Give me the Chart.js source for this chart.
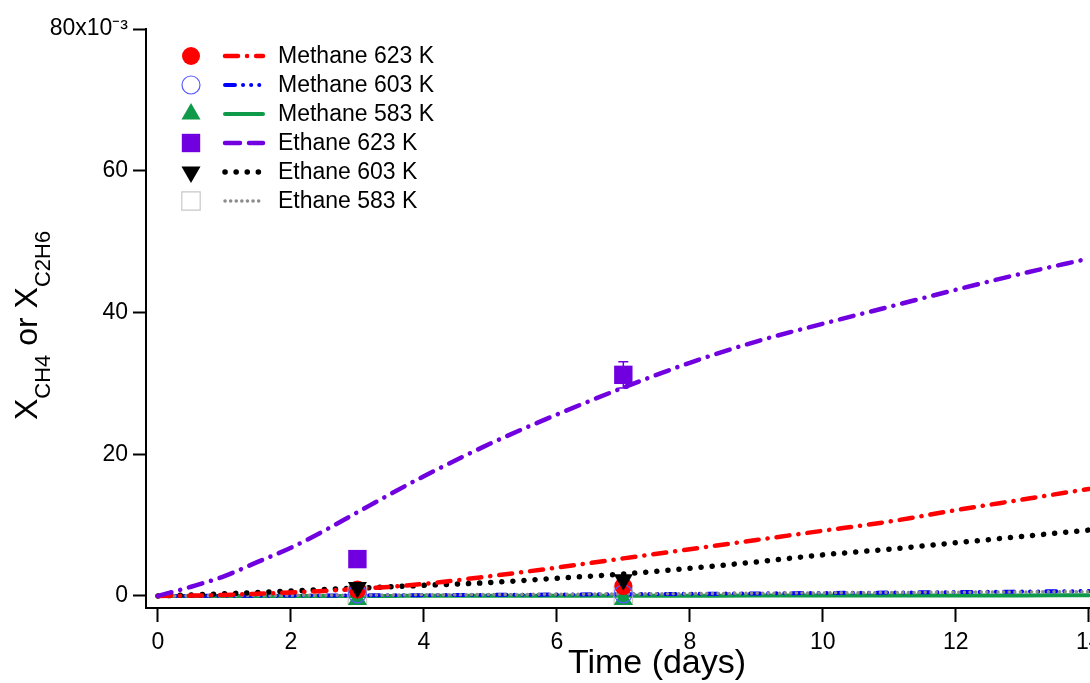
<!DOCTYPE html>
<html>
<head>
<meta charset="utf-8">
<script src="https://cdn.jsdelivr.net/npm/chart.js@4.4.1/dist/chart.umd.min.js"></script>
<style>
  html, body { margin: 0; padding: 0; background: #fff; overflow: hidden; }
</style>
</head>
<body>
<canvas id="myChart" width="1120" height="683"></canvas>
<script>
// model curves, sampled on a common time grid (days)
const fitDays = [0, 0.5, 1, 1.5, 2, 2.5, 3, 3.5, 4, 5, 6, 7, 8, 9, 10, 11, 12, 13, 14];
const methane623Fit = [0, 0.05, 0.15, 0.3, 0.5, 0.7, 1.0, 1.3, 1.7, 2.8, 4.0, 5.3, 6.6, 7.9, 9.2, 10.5, 12.1, 13.6, 15.1];
const methane603Fit = [0, 0.01, 0.02, 0.03, 0.05, 0.06, 0.08, 0.09, 0.11, 0.15, 0.2, 0.25, 0.3, 0.36, 0.42, 0.48, 0.55, 0.62, 0.7];
const methane583Fit = [0, 0, 0, 0, 0.01, 0.01, 0.01, 0.01, 0.02, 0.02, 0.03, 0.03, 0.04, 0.05, 0.05, 0.06, 0.07, 0.08, 0.09];
const ethane623Fit = [0, 1.3, 2.8, 4.8, 6.8, 9.2, 11.8, 14.4, 16.9, 21.5, 25.6, 29.4, 32.9, 35.9, 38.4, 40.8, 43.2, 45.5, 47.6];
const ethane603Fit = [0, 0.15, 0.3, 0.5, 0.7, 0.9, 1.1, 1.3, 1.5, 1.9, 2.5, 3.1, 3.9, 4.8, 5.8, 6.6, 7.5, 8.4, 9.3];
const ethane583Fit = [0, 0.02, 0.04, 0.06, 0.08, 0.1, 0.12, 0.14, 0.16, 0.2, 0.24, 0.28, 0.33, 0.38, 0.43, 0.48, 0.53, 0.57, 0.6];

// measurements
const sampleDays = [3, 7];
const methane623Obs = [0.9, 1.4];
const methane603Obs = [0.3, 0.3];
const methane583Obs = [-0.5, -0.5];
const ethane623Obs = [5.2, 31.2];
const ethane623Err = [0, 1.85];
const ethane603Obs = [1.2, 2.3];
const ethane583Obs = [0.1, 0.1];

const seriesNames = ['Methane 623 K', 'Methane 603 K', 'Methane 583 K', 'Ethane 623 K', 'Ethane 603 K', 'Ethane 583 K'];

const xTicks = [0, 2, 4, 6, 8, 10, 12, 14];
const xTickLabels = ['0', '2', '4', '6', '8', '10', '12', '14'];
const yTicks = [0, 20, 40, 60, 80];
const yTickLabels = ['0', '20', '40', '60', '80x10\u207B\u00B3'];
const xTitle = 'Time (days)';

const FONT = "'Liberation Sans', Arial, sans-serif";

const pts = (xs, ys) => xs.map((x, i) => ({ x: x, y: ys[i] }));

const markerSets = [
  { label: seriesNames[0], data: pts(sampleDays, methane623Obs), pointStyle: 'circle', pointRadius: 9,
    backgroundColor: '#ff0000', borderColor: '#ff0000', borderWidth: 0, order: 3 },
  { label: seriesNames[1], data: pts(sampleDays, methane603Obs), pointStyle: 'circle', pointRadius: 9,
    backgroundColor: 'rgba(0,0,0,0)', borderColor: '#5a5aff', borderWidth: 1.2, order: 2 },
  { label: seriesNames[2], data: pts(sampleDays, methane583Obs), pointStyle: 'triangle', pointRadius: 11,
    backgroundColor: '#0f9a4a', borderColor: '#0f9a4a', borderWidth: 0, order: 4 },
  { label: seriesNames[3], data: pts(sampleDays, ethane623Obs), pointStyle: 'rect', pointRadius: 13,
    backgroundColor: '#7000e0', borderColor: '#7000e0', borderWidth: 0, order: 0 },
  { label: seriesNames[4], data: pts(sampleDays, ethane603Obs), pointStyle: 'triangle', pointRadius: 11, rotation: 180,
    backgroundColor: '#000000', borderColor: '#000000', borderWidth: 0, order: 1 },
  { label: seriesNames[5], data: pts(sampleDays, ethane583Obs), pointStyle: 'rect', pointRadius: 13,
    backgroundColor: 'rgba(0,0,0,0)', borderColor: '#c8c8c8', borderWidth: 1.2, order: 5 }
].map(ds => Object.assign(ds, { showLine: false, pointRotation: ds.rotation || 0, pointHoverRadius: ds.pointRadius }));

const curveSets = [
  { label: seriesNames[0], data: pts(fitDays, methane623Fit), borderColor: '#ff0000', borderWidth: 4.5,
    borderDash: [13, 9, 0.1, 9], order: 8 },
  { label: seriesNames[1], data: pts(fitDays, methane603Fit), borderColor: '#0000ff', borderWidth: 4,
    borderDash: [10, 8, 0.1, 8, 0.1, 8, 0.1, 8], order: 11 },
  { label: seriesNames[2], data: pts(fitDays, methane583Fit), borderColor: '#0f9a4a', borderWidth: 4,
    borderDash: [], order: 12 },
  { label: seriesNames[3], data: pts(fitDays, ethane623Fit), borderColor: '#7000e0', borderWidth: 4.5,
    borderDash: [14, 9, 0.1, 9], legendDash: [15, 9], order: 7 },
  { label: seriesNames[4], data: pts(fitDays, ethane603Fit), borderColor: '#000000', borderWidth: 5.5,
    borderDash: [0.1, 11], order: 9 },
  { label: seriesNames[5], data: pts(fitDays, ethane583Fit), borderColor: '#8c8c8c', borderWidth: 3.5,
    borderDash: [0.1, 5.5], order: 10 }
].map(ds => Object.assign(ds, { showLine: true, pointRadius: 0, pointHoverRadius: 0, borderCapStyle: 'round',
  cubicInterpolationMode: 'monotone', fill: false }));

// error bars on the ethane 623 K measurements
const errorBars = {
  id: 'errorBars',
  beforeDatasetsDraw(chart) {
    const { ctx, scales: { x, y } } = chart;
    ctx.save();
    ctx.strokeStyle = '#7000e0';
    ctx.lineWidth = 1.5;
    sampleDays.forEach((d, i) => {
      const e = ethane623Err[i];
      if (!e) return;
      const px = x.getPixelForValue(d);
      const top = y.getPixelForValue(ethane623Obs[i] + e);
      const bot = y.getPixelForValue(ethane623Obs[i] - e);
      ctx.beginPath();
      ctx.moveTo(px, top); ctx.lineTo(px, bot);
      ctx.moveTo(px - 5, top); ctx.lineTo(px + 5, top);
      ctx.moveTo(px - 5, bot); ctx.lineTo(px + 5, bot);
      ctx.stroke();
    });
    ctx.restore();
  }
};

// legend: marker + line sample + name for each series
const sampleLegend = {
  id: 'sampleLegend',
  afterDraw(chart) {
    const ctx = chart.ctx;
    ctx.save();
    seriesNames.forEach((name, i) => {
      const y = 56 + i * 29;
      const m = markerSets[i];
      const c = curveSets[i];
      ctx.setLineDash([]);
      ctx.fillStyle = m.backgroundColor;
      ctx.strokeStyle = m.borderColor;
      ctx.lineWidth = m.borderWidth;
      Chart.helpers.drawPoint(ctx, { pointStyle: m.pointStyle, radius: m.pointRadius,
        rotation: m.pointRotation, borderWidth: m.borderWidth }, 191, y);

      ctx.beginPath();
      ctx.setLineDash(c.legendDash || c.borderDash);
      ctx.lineCap = 'round';
      ctx.strokeStyle = c.borderColor;
      ctx.lineWidth = c.borderWidth;
      ctx.moveTo(225, y);
      ctx.lineTo(263, y);
      ctx.stroke();

      ctx.setLineDash([]);
      ctx.fillStyle = '#000';
      ctx.font = '23px ' + FONT;
      ctx.textBaseline = 'middle';
      ctx.textAlign = 'left';
      ctx.fillText(name, 278, y + 1);
    });
    ctx.restore();
  }
};

// axis titles: x title off-centre, y title rotated with subscripts
const axisTitles = {
  id: 'axisTitles',
  afterDraw(chart) {
    const ctx = chart.ctx;
    ctx.save();
    ctx.fillStyle = '#000';
    ctx.font = '34px ' + FONT;
    ctx.textAlign = 'center';
    ctx.textBaseline = 'middle';
    ctx.fillText(xTitle, 657, 664);

    const parts = [
      { t: 'X', size: 32, dy: 0 },
      { t: 'CH4', size: 22, dy: 13 },
      { t: ' or X', size: 32, dy: 0 },
      { t: 'C2H6', size: 22, dy: 13 }
    ];
    ctx.translate(37, 420);
    ctx.rotate(-Math.PI / 2);
    ctx.textBaseline = 'alphabetic';
    ctx.textAlign = 'left';
    let u = 0;
    parts.forEach(p => {
      ctx.font = p.size + 'px ' + FONT;
      ctx.fillText(p.t, u, p.dy);
      u += ctx.measureText(p.t).width;
    });
    ctx.restore();
  }
};

const axisCommon = {
  type: 'linear',
  grid: { drawOnChartArea: false, drawTicks: true, tickWidth: 2, tickColor: '#000' },
  border: { display: true, color: '#000', width: 2 }
};

new Chart(document.getElementById('myChart'), {
  type: 'scatter',
  data: { datasets: markerSets.concat(curveSets) },
  options: {
    responsive: false,
    animation: false,
    layout: { padding: { left: 0, right: 30, top: 29, bottom: 0 } },
    plugins: { legend: { display: false }, tooltip: { enabled: false } },
    scales: {
      x: Object.assign({}, axisCommon, {
        min: -0.18, max: 14.02,
        grid: Object.assign({}, axisCommon.grid, { tickLength: 14 }),
        afterBuildTicks: axis => { axis.ticks = xTicks.map(v => ({ value: v })); },
        afterFit: axis => { axis.height = 75; },
        ticks: { color: '#000', font: { size: 23, family: FONT }, padding: 7, maxRotation: 0, autoSkip: false,
          callback: (v, i) => xTickLabels[i] }
      }),
      y: Object.assign({}, axisCommon, {
        min: -1.7, max: 80,
        grid: Object.assign({}, axisCommon.grid, { tickLength: 13 }),
        afterBuildTicks: axis => { axis.ticks = yTicks.map(v => ({ value: v })); },
        afterFit: axis => { axis.width = 146; },
        ticks: { color: '#000', font: { size: 23, family: FONT }, padding: 5, autoSkip: false,
          callback: (v, i) => yTickLabels[i] }
      })
    }
  },
  plugins: [errorBars, sampleLegend, axisTitles]
});
</script>
</body>
</html>
